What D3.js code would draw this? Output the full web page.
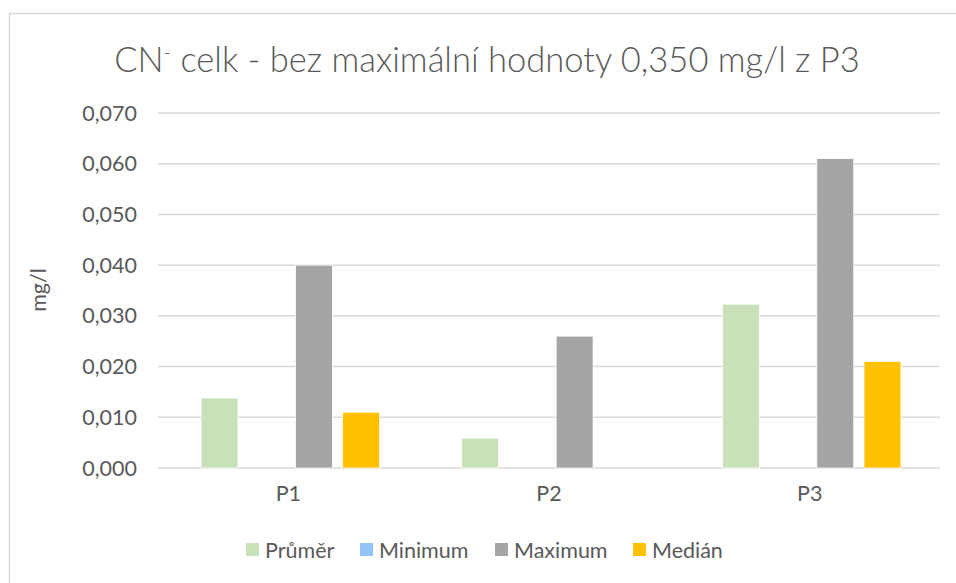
<!DOCTYPE html>
<html>
<head>
<meta charset="utf-8">
<script src="https://cdn.jsdelivr.net/npm/d3@7"></script>
<style>
  body { margin: 0; background: #fff; }
  text { font-family: Lato, "Open Sans", sans-serif; fill: #595959; }
</style>
</head>
<body>
<div id="chart"></div>
<script>
// data
const categories = ["P1", "P2", "P3"];
const seriesNames = ["Průměr", "Minimum", "Maximum", "Medián"];
const prumer = [0.0138, 0.0059, 0.0323];
const minimum = [0, 0, 0];
const maximum = [0.040, 0.026, 0.061];
const median = [0.011, 0, 0.021];
const yTicks = [0, 0.01, 0.02, 0.03, 0.04, 0.05, 0.06, 0.07];
const colors = ["#C9E1B9", "#92C4F6", "#A5A5A5", "#FFC000"];

const W = 956, H = 583;
const svg = d3.select("#chart").append("svg")
    .attr("width", W)
    .attr("height", H);

// rámeček grafu
svg.append("rect")
    .attr("x", 9.5).attr("y", 13.5)
    .attr("width", W).attr("height", H)
    .attr("fill", "#fff")
    .attr("stroke", "#D9D9D9")
    .attr("stroke-width", 1.5);

const plot = { left: 158, right: 940, top: 113, bottom: 468 };

const x = d3.scaleBand()
    .domain(categories)
    .range([plot.left, plot.right]);

const xInner = d3.scaleBand()
    .domain(seriesNames)
    .range([2, x.bandwidth() + 2])
    .paddingInner(0.218)
    .paddingOuter(0.87);

const y = d3.scaleLinear()
    .domain([0, 0.07])
    .range([plot.bottom, plot.top]);

const fmt = v => d3.format(".3f")(v).replace(".", ",");

// mřížka
svg.append("g")
    .selectAll("line")
    .data(yTicks)
    .enter()
    .append("line")
    .attr("x1", plot.left)
    .attr("x2", plot.right)
    .attr("y1", d => y(d))
    .attr("y2", d => y(d))
    .attr("stroke", "#D9D9D9")
    .attr("stroke-width", 1.5);

// popisky osy y
svg.append("g")
    .selectAll("text")
    .data(yTicks)
    .enter()
    .append("text")
    .attr("x", 137)
    .attr("y", d => y(d))
    .attr("dy", "0.35em")
    .attr("text-anchor", "end")
    .style("font-size", "21.5px")
    .text(d => fmt(d));

// sloupce
const table = categories.map((c, i) => ({
    cat: c,
    values: [prumer[i], minimum[i], maximum[i], median[i]]
}));

const groups = svg.append("g")
    .selectAll("g")
    .data(table)
    .enter()
    .append("g")
    .attr("transform", d => `translate(${x(d.cat)},0)`);

groups.selectAll("rect")
    .data(d => d.values.map((v, j) => ({ name: seriesNames[j], value: v, color: colors[j] })))
    .enter()
    .append("rect")
    .attr("x", d => xInner(d.name))
    .attr("y", d => y(d.value))
    .attr("width", xInner.bandwidth())
    .attr("height", d => y(0) - y(d.value))
    .attr("fill", d => d.color)
    .attr("stroke", "#fff")
    .attr("stroke-width", d => d.value > 0 ? 0.75 : 0);

// popisky kategorií
svg.append("g")
    .selectAll("text")
    .data(categories)
    .enter()
    .append("text")
    .attr("x", d => x(d) + x.bandwidth() / 2)
    .attr("y", 493)
    .attr("dy", "0.35em")
    .attr("text-anchor", "middle")
    .style("font-size", "21.5px")
    .text(d => d);

// název osy y
svg.append("text")
    .attr("transform", "translate(38,290) rotate(-90)")
    .attr("text-anchor", "middle")
    .attr("dy", "0.35em")
    .style("font-size", "21.5px")
    .text("mg/l");

// nadpis
const title = svg.append("text")
    .attr("x", 487)
    .attr("y", 72)
    .attr("text-anchor", "middle")
    .style("font-size", "34.5px")
    .style("font-weight", 300);
title.append("tspan").text("CN");
title.append("tspan").attr("dy", -13).style("font-size", "20px").text("-");
title.append("tspan").attr("dy", 13).text(" celk - bez maximální hodnoty 0,350 mg/l z P3");

// legenda
const legendX = [246, 360, 495, 633];
const legend = svg.append("g")
    .selectAll("g")
    .data(seriesNames)
    .enter()
    .append("g")
    .attr("transform", (d, i) => `translate(${legendX[i]},543)`);

legend.append("rect")
    .attr("width", 13)
    .attr("height", 13)
    .attr("fill", (d, i) => colors[i]);

legend.append("text")
    .attr("x", 19)
    .attr("y", 7)
    .attr("dy", "0.35em")
    .style("font-size", "21.5px")
    .text(d => d);
</script>
</body>
</html>
